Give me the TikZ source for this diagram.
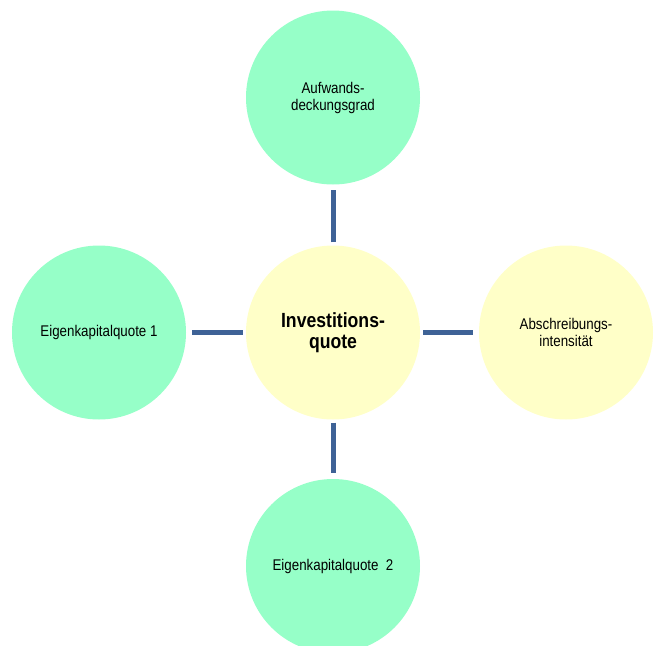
\documentclass[tikz,border=0pt]{standalone}
\usepackage{fontspec}
\setmainfont[FakeStretch=0.86]{Liberation Sans}
\begin{document}
\begin{tikzpicture}[x=1pt,y=-1pt,
  bubble/.style={circle,minimum size=174pt,inner sep=0pt,align=center,font=\fontsize{15.5}{17}\selectfont},
  greenb/.style={bubble,fill=mintg},
  yellowb/.style={bubble,fill=paley},
  conn/.style={draw=linkblue,line width=5pt,shorten <=3pt,shorten >=5.5pt}]
\definecolor{mintg}{RGB}{150,255,200}
\definecolor{paley}{RGB}{255,255,200}
\definecolor{linkblue}{RGB}{62,98,150}
\useasboundingbox (0,0) rectangle (657,646);
\clip (0,0) rectangle (657,646);
\node[yellowb,font=\fontsize{20.5}{21}\selectfont\bfseries] (c) at (333,332.5) {Investitions-\\quote};
\node[greenb] (t) at (333,97.5) {Aufwands-\\deckungsgrad};
\node[greenb] (l) at (99,332.5) {Eigenkapitalquote 1};
\node[yellowb] (r) at (566,332.5) {Abschreibungs-\\intensität};
\node[greenb] (b) at (333,566) {Eigenkapitalquote\ \ 2};
\draw[conn] (c) -- (t);
\draw[conn] (c) -- (l);
\draw[conn] (c) -- (r);
\draw[conn] (c) -- (b);
\end{tikzpicture}
\end{document}
